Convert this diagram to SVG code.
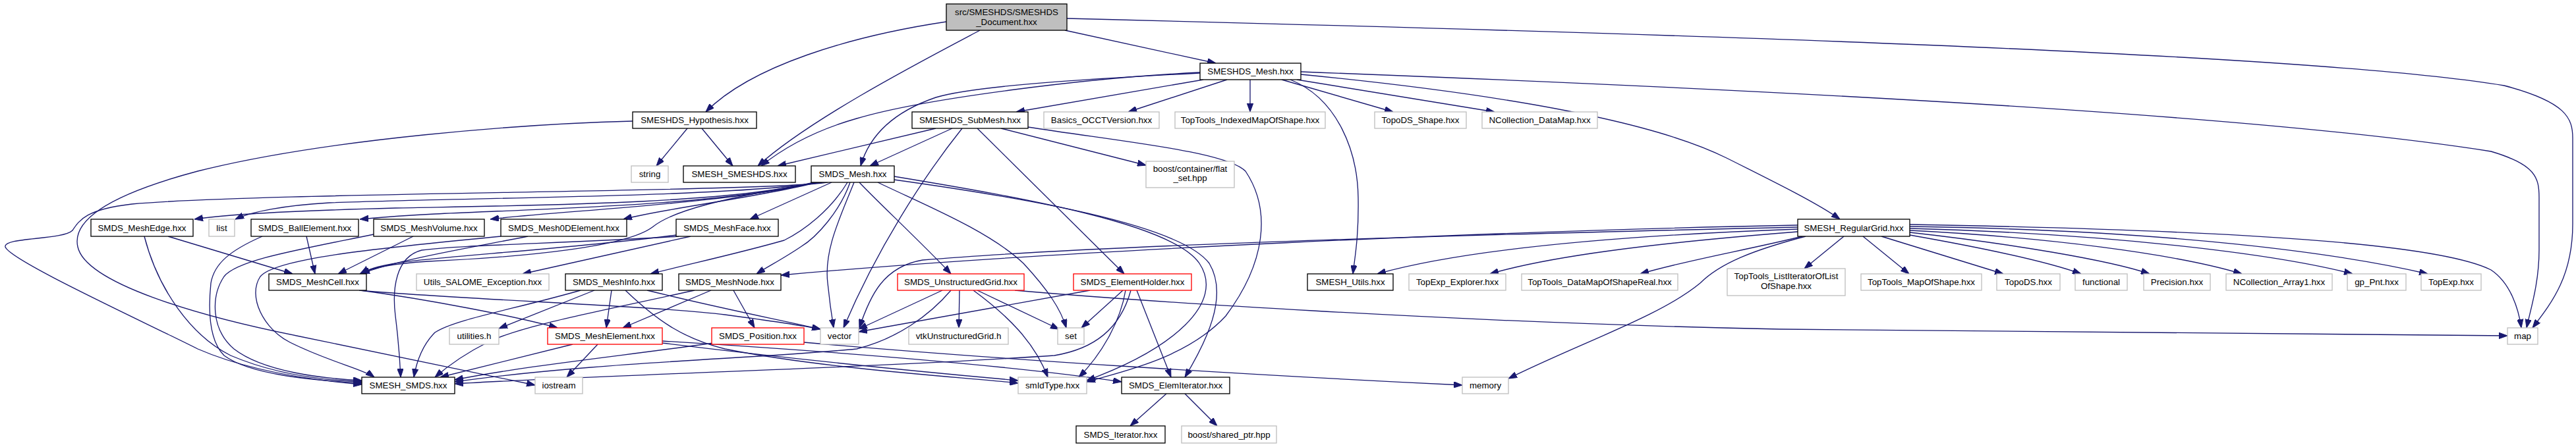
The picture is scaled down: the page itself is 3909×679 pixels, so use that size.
<svg xmlns="http://www.w3.org/2000/svg" width="3909" height="679" viewBox="0 0 3909 679">
<style>
.b{fill:#ffffff;stroke:#000000;stroke-width:1.33}
.u{fill:#ffffff;stroke:#bfbfbf;stroke-width:1.33}
.r{fill:#ffffff;stroke:#ff0000;stroke-width:1.33}
.root{fill:#bfbfbf;stroke:#000000;stroke-width:1.33}
text{font-family:"Liberation Sans",Arial,Helvetica,sans-serif;font-size:13.33px;fill:#000000;text-anchor:middle}
#edges path{fill:none;stroke:#191970;stroke-width:1.33;marker-end:url(#ah)}
</style>
<defs>
<marker id="ah" viewBox="0 0 13 9.4" refX="13" refY="4.7" markerWidth="13" markerHeight="9.4" markerUnits="userSpaceOnUse" orient="auto">
<path d="M0,0 L13,4.7 L0,9.4 z" fill="#191970" stroke="#191970" stroke-width="1"/>
</marker>
</defs>
<rect x="0" y="0" width="3909" height="679" fill="#ffffff"/>
<g id="edges">
<path d="M1436,33 C1290,55 1140,100 1071,170"/>
<path d="M1487,46 C1400,92 1230,180 1150,252"/>
<path d="M1616,46 L1845,96"/>
<path d="M1619,28 C2500,50 3500,80 3800,130 C3895,155 3904,180 3904,210 L3904,340 C3904,420 3872,460 3843,498"/>
<path d="M1821,110 C1650,118 1400,150 1300,180 C1230,200 1185,228 1155,252"/>
<path d="M1821,111 C1650,120 1480,130 1420,148 C1350,172 1318,210 1306,252"/>
<path d="M1826,121 L1542,170"/>
<path d="M1862,121 L1712,170"/>
<path d="M1897,121 L1897,170"/>
<path d="M1945,121 L2114,170"/>
<path d="M1968,121 L2268,170"/>
<path d="M1958,121 C2030,150 2060,230 2061,300 C2062,360 2056,390 2053,416"/>
<path d="M1974,113 C2250,140 2500,180 2620,240 C2700,280 2760,310 2792,333"/>
<path d="M1974,109 C2600,133 3400,170 3780,230 C3848,250 3853,270 3853,300 L3853,380 C3853,430 3840,470 3834,498"/>
<path d="M1043,195 L996,252"/>
<path d="M1065,195 L1112,252"/>
<path d="M960,184 C800,188 500,210 300,260 C150,300 110,340 118,375 C130,430 300,480 450,510 C600,540 720,565 812,585"/>
<path d="M1420,195 L1180,252"/>
<path d="M1445,195 L1320,252"/>
<path d="M1460,195 C1400,270 1330,380 1280,498"/>
<path d="M1483,195 L1706,416"/>
<path d="M1519,195 L1739,251"/>
<path d="M1560,193 C1700,215 1860,230 1890,260 C1930,320 1920,400 1860,480 C1800,545 1700,565 1649,580"/>
<path d="M1256,277 C1150,292 400,292 200,310 C130,318 120,335 110,350 C95,365 5,360 8,375 C15,395 200,480 300,530 C380,565 480,578 549,584"/>
<path d="M1248,277 C1100,300 700,300 500,308 C430,312 380,322 357,333"/>
<path d="M1235,277 C1100,310 800,312 600,316 C450,320 340,326 295,333"/>
<path d="M1236,277 C1100,312 800,318 660,325 C620,327 580,330 546,333"/>
<path d="M1238,277 C1100,310 850,320 744,333"/>
<path d="M1240,277 C1150,300 1000,318 946,333"/>
<path d="M1262,277 L1138,333"/>
<path d="M1242,277 C1100,300 1020,320 990,345 C950,375 800,390 650,397 C600,400 565,406 546,416"/>
<path d="M1286,277 C1260,320 1220,350 1190,365 C1120,385 1050,400 987,416"/>
<path d="M1290,277 C1275,320 1240,360 1215,375 C1190,392 1165,405 1148,416"/>
<path d="M1296,277 C1275,330 1250,380 1256,430 C1259,460 1262,480 1265,498"/>
<path d="M1304,277 C1330,305 1400,370 1443,416"/>
<path d="M1332,277 C1400,310 1500,350 1553,400 C1590,440 1610,470 1618,498"/>
<path d="M1357,268 C1550,300 1780,340 1820,400 C1860,460 1780,530 1649,578"/>
<path d="M1357,273 C1550,300 1790,340 1835,400 C1865,450 1830,520 1798,573"/>
<path d="M255,359 L444,416"/>
<path d="M219,359 C240,440 290,510 350,540 C420,570 500,578 549,580"/>
<path d="M465,359 L478,416"/>
<path d="M398,359 C350,380 325,400 320,430 C315,480 320,520 340,540 C380,570 480,578 549,582"/>
<path d="M627,359 L513,416"/>
<path d="M567,356 C450,380 360,395 340,420 C320,450 320,500 355,530 C400,565 490,575 549,578"/>
<path d="M801,359 C720,375 600,395 548,416"/>
<path d="M760,359 C600,375 420,390 395,420 C375,450 400,500 440,520 C500,550 550,560 568,573"/>
<path d="M1026,357 C850,380 650,390 600,400 C570,405 556,410 548,416"/>
<path d="M1048,359 L793,416"/>
<path d="M1030,359 C850,370 700,372 640,380 C600,390 595,440 600,480 C605,520 607,550 608,573"/>
<path d="M547,441 C650,455 780,480 846,498"/>
<path d="M545,441 C700,455 1000,465 1100,478 C1160,486 1210,493 1245,500"/>
<path d="M881,441 C780,470 690,485 660,505 C640,525 632,550 628,573"/>
<path d="M902,441 L757,499"/>
<path d="M928,441 L920,498"/>
<path d="M949,441 C1000,490 1040,515 1100,530 C1250,560 1450,572 1545,582"/>
<path d="M982,441 C1100,470 1180,485 1245,500"/>
<path d="M1054,441 C900,475 790,495 740,520 C700,540 675,560 660,573"/>
<path d="M1079,441 L945,498"/>
<path d="M1113,441 L1145,498"/>
<path d="M869,523 L668,573"/>
<path d="M907,523 L860,573"/>
<path d="M1005,518 C1200,530 1500,550 1702,580"/>
<path d="M1005,521 C1200,545 1400,565 1545,578"/>
<path d="M1082,521 C950,540 800,555 690,577"/>
<path d="M1220,520 C1500,545 1900,570 2219,585"/>
<path d="M1430,441 L1303,500"/>
<path d="M1443,441 C1410,480 1360,515 1300,530 C1150,545 900,550 690,580"/>
<path d="M1456,441 L1455,498"/>
<path d="M1477,441 C1530,480 1570,520 1590,573"/>
<path d="M1483,441 L1607,500"/>
<path d="M1540,441 C1700,455 2200,490 2700,500 L3805,510"/>
<path d="M1654,441 L1303,504"/>
<path d="M1704,441 L1641,498"/>
<path d="M1708,441 C1700,490 1670,540 1637,573"/>
<path d="M1725,441 L1777,573"/>
<path d="M1716,441 C1700,500 1660,530 1600,540 C1300,560 900,570 690,583"/>
<path d="M1770,598 L1715,647"/>
<path d="M1798,598 L1847,647"/>
<path d="M2728,342 C2300,350 1600,380 1185,418"/>
<path d="M2728,345 C2300,355 1700,370 1400,395 C1340,405 1320,450 1304,498"/>
<path d="M2728,348 C2400,360 2200,385 2090,416"/>
<path d="M2728,352 C2500,370 2350,390 2261,416"/>
<path d="M2735,359 C2650,380 2560,395 2489,416"/>
<path d="M2740,359 C2660,380 2610,400 2580,430 C2520,480 2400,520 2289,575"/>
<path d="M2798,359 L2738,408"/>
<path d="M2827,359 L2897,416"/>
<path d="M2855,359 L3040,416"/>
<path d="M2898,357 C3000,375 3100,395 3158,416"/>
<path d="M2898,353 C3050,370 3200,395 3262,416"/>
<path d="M2898,350 C3100,360 3300,385 3402,416"/>
<path d="M2898,347 C3200,355 3450,385 3570,416"/>
<path d="M2898,344 C3300,350 3550,385 3684,416"/>
<path d="M2898,341 C3400,350 3700,370 3780,410 C3810,430 3822,470 3826,498"/>
</g>
<g id="n_root"><rect class="root" x="1436" y="6" width="183" height="40"/><text x="1527.5" y="22.5">src/SMESHDS/SMESHDS</text><text x="1527.5" y="37.5">_Document.hxx</text></g>
<g id="n_smeshds_mesh"><rect class="b" x="1821" y="96" width="153" height="25"/><text x="1897.5" y="113">SMESHDS_Mesh.hxx</text></g>
<g id="n_hyp"><rect class="b" x="960" y="170" width="188" height="25"/><text x="1054" y="187">SMESHDS_Hypothesis.hxx</text></g>
<g id="n_submesh"><rect class="b" x="1384" y="170" width="176" height="25"/><text x="1472" y="187">SMESHDS_SubMesh.hxx</text></g>
<g id="n_basics"><rect class="u" x="1584" y="170" width="175" height="25"/><text x="1671.5" y="187">Basics_OCCTVersion.hxx</text></g>
<g id="n_ttimap"><rect class="u" x="1783" y="170" width="228" height="25"/><text x="1897" y="187">TopTools_IndexedMapOfShape.hxx</text></g>
<g id="n_topods_shape"><rect class="u" x="2086" y="170" width="139" height="25"/><text x="2155.5" y="187">TopoDS_Shape.hxx</text></g>
<g id="n_ncdatamap"><rect class="u" x="2249" y="170" width="175" height="25"/><text x="2336.5" y="187">NCollection_DataMap.hxx</text></g>
<g id="n_string"><rect class="u" x="958" y="252" width="56" height="25"/><text x="986" y="269">string</text></g>
<g id="n_smesh_smeshds"><rect class="b" x="1037" y="252" width="170" height="25"/><text x="1122" y="269">SMESH_SMESHDS.hxx</text></g>
<g id="n_smds_mesh"><rect class="b" x="1231" y="252" width="126" height="25"/><text x="1294" y="269">SMDS_Mesh.hxx</text></g>
<g id="n_flatset"><rect class="u" x="1739" y="245" width="134" height="40"/><text x="1806" y="261">boost/container/flat</text><text x="1806" y="275">_set.hpp</text></g>
<g id="n_meshedge"><rect class="b" x="138" y="333" width="155" height="26"/><text x="215.5" y="350.5">SMDS_MeshEdge.hxx</text></g>
<g id="n_list"><rect class="u" x="317" y="333" width="39" height="26"/><text x="336.5" y="350.5">list</text></g>
<g id="n_ball"><rect class="b" x="381" y="333" width="163" height="26"/><text x="462.5" y="350.5">SMDS_BallElement.hxx</text></g>
<g id="n_volume"><rect class="b" x="567" y="333" width="168" height="26"/><text x="651" y="350.5">SMDS_MeshVolume.hxx</text></g>
<g id="n_0d"><rect class="b" x="760" y="333" width="191" height="26"/><text x="855.5" y="350.5">SMDS_Mesh0DElement.hxx</text></g>
<g id="n_face"><rect class="b" x="1026" y="333" width="155" height="26"/><text x="1103.5" y="350.5">SMDS_MeshFace.hxx</text></g>
<g id="n_reggrid"><rect class="b" x="2728" y="333" width="170" height="26"/><text x="2813" y="350.5">SMESH_RegularGrid.hxx</text></g>
<g id="n_cell"><rect class="b" x="408" y="416" width="148" height="25"/><text x="482" y="433">SMDS_MeshCell.hxx</text></g>
<g id="n_utils_salome"><rect class="u" x="632" y="416" width="201" height="25"/><text x="732.5" y="433">Utils_SALOME_Exception.hxx</text></g>
<g id="n_info"><rect class="b" x="858" y="416" width="147" height="25"/><text x="931.5" y="433">SMDS_MeshInfo.hxx</text></g>
<g id="n_node"><rect class="b" x="1030" y="416" width="155" height="25"/><text x="1107.5" y="433">SMDS_MeshNode.hxx</text></g>
<g id="n_ug"><rect class="r" x="1362" y="416" width="192" height="25"/><text x="1458" y="433">SMDS_UnstructuredGrid.hxx</text></g>
<g id="n_eh"><rect class="r" x="1629" y="416" width="179" height="25"/><text x="1718.5" y="433">SMDS_ElementHolder.hxx</text></g>
<g id="n_smesh_utils"><rect class="b" x="1984" y="416" width="130" height="25"/><text x="2049" y="433">SMESH_Utils.hxx</text></g>
<g id="n_topexp_explorer"><rect class="u" x="2138" y="416" width="147" height="25"/><text x="2211.5" y="433">TopExp_Explorer.hxx</text></g>
<g id="n_datamapreal"><rect class="u" x="2309" y="416" width="237" height="25"/><text x="2427.5" y="433">TopTools_DataMapOfShapeReal.hxx</text></g>
<g id="n_listiter"><rect class="u" x="2621" y="408" width="179" height="41"/><text x="2710.5" y="424">TopTools_ListIteratorOfList</text><text x="2710.5" y="439">OfShape.hxx</text></g>
<g id="n_mapofshape"><rect class="u" x="2824" y="416" width="183" height="25"/><text x="2915.5" y="433">TopTools_MapOfShape.hxx</text></g>
<g id="n_topods"><rect class="u" x="3030" y="416" width="96" height="25"/><text x="3078" y="433">TopoDS.hxx</text></g>
<g id="n_functional"><rect class="u" x="3149" y="416" width="79" height="25"/><text x="3188.5" y="433">functional</text></g>
<g id="n_precision"><rect class="u" x="3253" y="416" width="101" height="25"/><text x="3303.5" y="433">Precision.hxx</text></g>
<g id="n_ncarray1"><rect class="u" x="3378" y="416" width="161" height="25"/><text x="3458.5" y="433">NCollection_Array1.hxx</text></g>
<g id="n_gppnt"><rect class="u" x="3562" y="416" width="89" height="25"/><text x="3606.5" y="433">gp_Pnt.hxx</text></g>
<g id="n_topexp"><rect class="u" x="3674" y="416" width="91" height="25"/><text x="3719.5" y="433">TopExp.hxx</text></g>
<g id="n_utilities"><rect class="u" x="682" y="498" width="75" height="25"/><text x="719.5" y="515">utilities.h</text></g>
<g id="n_meshelement"><rect class="r" x="831" y="498" width="174" height="25"/><text x="918" y="515">SMDS_MeshElement.hxx</text></g>
<g id="n_position"><rect class="r" x="1080" y="498" width="140" height="25"/><text x="1150" y="515">SMDS_Position.hxx</text></g>
<g id="n_vector"><rect class="u" x="1245" y="498" width="58" height="25"/><text x="1274" y="515">vector</text></g>
<g id="n_vtkug"><rect class="u" x="1379" y="498" width="151" height="25"/><text x="1454.5" y="515">vtkUnstructuredGrid.h</text></g>
<g id="n_set"><rect class="u" x="1605" y="498" width="40" height="25"/><text x="1625" y="515">set</text></g>
<g id="n_map"><rect class="u" x="3805" y="498" width="46" height="25"/><text x="3828" y="515">map</text></g>
<g id="n_smesh_smds"><rect class="b" x="549" y="573" width="141" height="25"/><text x="619.5" y="590">SMESH_SMDS.hxx</text></g>
<g id="n_iostream"><rect class="u" x="812" y="573" width="72" height="25"/><text x="848" y="590">iostream</text></g>
<g id="n_smidtype"><rect class="u" x="1545" y="573" width="104" height="25"/><text x="1597" y="590">smIdType.hxx</text></g>
<g id="n_elemiter"><rect class="b" x="1702" y="573" width="164" height="25"/><text x="1784" y="590">SMDS_ElemIterator.hxx</text></g>
<g id="n_memory"><rect class="u" x="2219" y="573" width="70" height="25"/><text x="2254" y="590">memory</text></g>
<g id="n_iterator"><rect class="b" x="1633" y="647" width="135" height="26"/><text x="1700.5" y="664.5">SMDS_Iterator.hxx</text></g>
<g id="n_sharedptr"><rect class="u" x="1793" y="647" width="144" height="26"/><text x="1865" y="664.5">boost/shared_ptr.hpp</text></g>
</svg>
